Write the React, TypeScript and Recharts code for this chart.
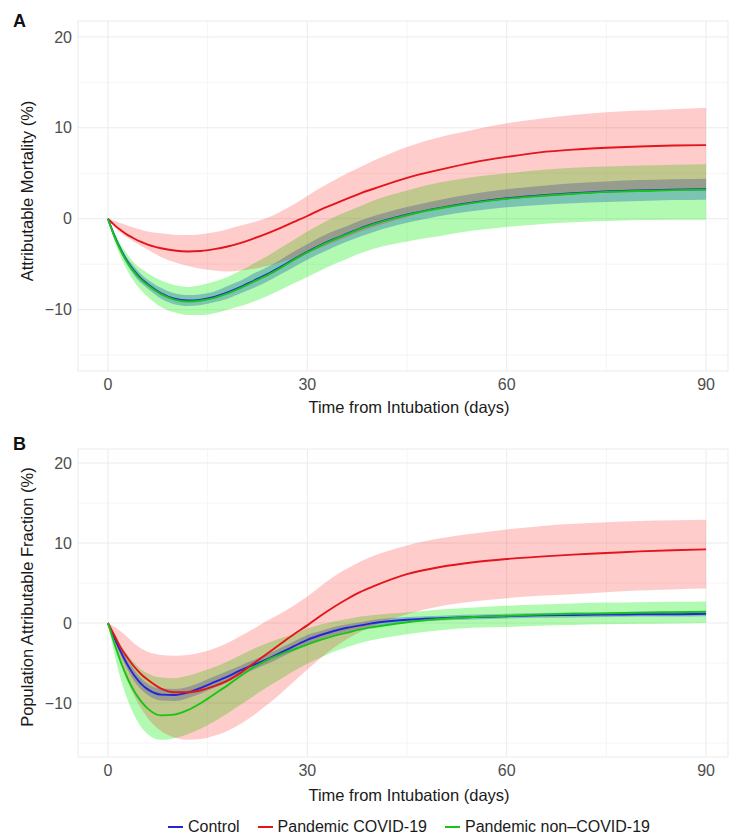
import {
  Area,
  CartesianGrid,
  ComposedChart,
  Line,
  XAxis,
  YAxis,
} from "recharts";

// days from intubation at which the curves were read
const days = [0, 1, 2, 3, 4, 5, 6, 8, 10, 12, 14, 16, 18, 20, 22, 24, 26, 28, 30, 32, 34, 36, 38, 40, 45, 50, 55, 60, 65, 70, 75, 80, 85, 90];

// Panel A: attributable mortality (%)
const aControl = [0, -1.9, -3.5, -4.8, -5.8, -6.6, -7.2, -8.2, -8.8, -9.0, -8.9, -8.6, -8.1, -7.5, -6.8, -6.1, -5.3, -4.45, -3.65, -2.9, -2.25, -1.65, -1.05, -0.55, 0.45, 1.2, 1.8, 2.25, 2.55, 2.8, 3.0, 3.1, 3.2, 3.25];
const aControlLo = [0, -2.1, -3.8, -5.2, -6.3, -7.1, -7.7, -8.8, -9.4, -9.6, -9.5, -9.2, -8.8, -8.2, -7.6, -6.9, -6.1, -5.3, -4.5, -3.8, -3.1, -2.5, -1.95, -1.45, -0.45, 0.3, 0.85, 1.25, 1.5, 1.7, 1.85, 1.95, 2.05, 2.1];
const aControlHi = [0, -1.7, -3.2, -4.4, -5.3, -6.1, -6.7, -7.6, -8.2, -8.4, -8.3, -8.0, -7.4, -6.8, -6.0, -5.3, -4.5, -3.6, -2.8, -2.0, -1.35, -0.8, -0.2, 0.3, 1.3, 2.1, 2.75, 3.25, 3.6, 3.9, 4.1, 4.25, 4.35, 4.4];
const aCovid = [0, -0.7, -1.3, -1.8, -2.2, -2.55, -2.85, -3.25, -3.5, -3.6, -3.55, -3.35, -3.05, -2.65, -2.15, -1.6, -1.0, -0.35, 0.3, 1.0, 1.6, 2.2, 2.8, 3.3, 4.5, 5.4, 6.2, 6.8, 7.3, 7.6, 7.8, 7.95, 8.05, 8.1];
const aCovidLo = [0, -0.9, -1.6, -2.1, -2.6, -3.0, -3.4, -4.2, -4.8, -5.2, -5.5, -5.7, -5.8, -5.7, -5.5, -5.2, -4.8, -4.3, -3.8, -3.2, -2.6, -2.0, -1.4, -0.9, 0.2, 1.2, 1.8, 2.3, 2.6, 2.8, 3.0, 3.1, 3.2, 3.3];
const aCovidHi = [0, -0.25, -0.5, -0.75, -1.0, -1.2, -1.4, -1.6, -1.75, -1.8, -1.7, -1.5, -1.15, -0.75, -0.35, 0.1, 0.8, 1.6, 2.5, 3.4, 4.2, 5.0, 5.7, 6.4, 7.9, 9.0, 9.8, 10.5, 11.0, 11.4, 11.7, 11.9, 12.05, 12.2];
const aNon = [0, -2.0, -3.6, -4.9, -5.9, -6.7, -7.3, -8.3, -8.9, -9.1, -9.0, -8.7, -8.2, -7.6, -6.9, -6.2, -5.4, -4.5, -3.7, -2.95, -2.3, -1.7, -1.1, -0.6, 0.4, 1.15, 1.75, 2.2, 2.5, 2.75, 2.95, 3.05, 3.15, 3.2];
const aNonLo = [0, -2.5, -4.3, -5.8, -7.0, -7.9, -8.6, -9.7, -10.3, -10.6, -10.6, -10.4, -10.0, -9.6, -9.1, -8.5, -7.8, -7.1, -6.4, -5.7, -5.0, -4.4, -3.8, -3.3, -2.5, -1.9, -1.3, -0.9, -0.6, -0.4, -0.25, -0.15, -0.1, -0.1];
const aNonHi = [0, -1.5, -2.9, -4.0, -4.9, -5.5, -6.0, -6.8, -7.3, -7.5, -7.3, -6.9, -6.4, -5.7, -4.9, -4.1, -3.2, -2.3, -1.4, -0.6, 0.15, 0.8, 1.4, 2.0, 3.1, 4.0, 4.6, 5.0, 5.35, 5.6, 5.75, 5.85, 5.95, 6.0];

// Panel B: population attributable fraction (%)
const bControl = [0, -1.9, -3.7, -5.3, -6.6, -7.6, -8.3, -8.95, -9.0, -8.7, -8.1, -7.4, -6.7, -5.9, -5.2, -4.5, -3.7, -2.9, -2.1, -1.5, -1.0, -0.6, -0.3, 0.0, 0.4, 0.6, 0.75, 0.85, 0.95, 1.0, 1.05, 1.1, 1.1, 1.15];
const bControlLo = [0, -2.2, -4.2, -5.9, -7.3, -8.3, -9.0, -9.7, -9.75, -9.4, -8.8, -8.1, -7.4, -6.5, -5.8, -5.1, -4.3, -3.5, -2.7, -2.0, -1.5, -1.05, -0.7, -0.4, 0.05, 0.3, 0.45, 0.55, 0.65, 0.7, 0.75, 0.8, 0.8, 0.85];
const bControlHi = [0, -1.6, -3.2, -4.7, -5.9, -6.9, -7.6, -8.2, -8.25, -8.0, -7.4, -6.7, -6.0, -5.3, -4.6, -3.9, -3.1, -2.3, -1.5, -1.0, -0.5, -0.15, 0.1, 0.4, 0.75, 0.9, 1.05, 1.15, 1.25, 1.3, 1.35, 1.4, 1.4, 1.45];
const bCovid = [0, -1.6, -3.2, -4.4, -5.5, -6.4, -7.1, -8.2, -8.65, -8.65, -8.4, -7.9, -7.2, -6.2, -5.0, -3.8, -2.6, -1.4, -0.3, 0.9, 2.0, 3.0, 3.9, 4.6, 6.1, 7.0, 7.6, 8.0, 8.3, 8.55, 8.75, 8.95, 9.1, 9.2];
const bCovidLo = [0, -2.8, -5.3, -7.4, -9.2, -10.7, -11.9, -13.5, -14.3, -14.6, -14.5, -14.1, -13.5, -12.6, -11.5, -10.2, -8.8, -7.3, -5.8, -4.4, -3.1, -2.0, -1.1, -0.3, 1.1, 2.1, 2.7, 3.1, 3.4, 3.6, 3.85, 4.05, 4.2, 4.3];
const bCovidHi = [0, -0.5, -1.1, -1.8, -2.6, -3.2, -3.6, -4.0, -4.1, -4.0, -3.7, -3.2, -2.5, -1.6, -0.7, 0.3, 1.2, 2.2, 3.3, 4.6, 5.8, 6.8, 7.7, 8.4, 9.7, 10.6, 11.2, 11.7, 12.1, 12.4, 12.6, 12.75, 12.85, 12.9];
const bNon = [0, -2.6, -5.0, -7.0, -8.6, -9.8, -10.7, -11.55, -11.45, -10.9, -10.0, -8.9, -7.8, -6.6, -5.5, -4.6, -3.9, -3.3, -2.7, -2.1, -1.6, -1.2, -0.8, -0.5, 0.1, 0.5, 0.75, 0.9, 1.05, 1.15, 1.2, 1.3, 1.35, 1.4];
const bNonLo = [0, -4.0, -7.2, -9.7, -11.6, -13.0, -13.9, -14.6, -14.4, -13.9, -13.2, -12.3, -11.3, -10.2, -9.1, -8.0, -7.0, -6.0, -5.1, -4.3, -3.6, -3.0, -2.5, -2.1, -1.4, -0.9, -0.6, -0.5, -0.35, -0.25, -0.15, -0.1, -0.05, 0];
const bNonHi = [0, -1.3, -2.8, -4.0, -5.0, -5.8, -6.3, -6.8, -6.9, -6.6, -6.1, -5.5, -4.8, -4.0, -3.2, -2.5, -1.9, -1.3, -0.7, -0.2, 0.2, 0.5, 0.8, 1.0, 1.3, 1.7, 1.95, 2.15, 2.3, 2.45, 2.55, 2.6, 2.65, 2.7];

const xTicks = [0, 30, 60, 90];
const xMinor = [15, 45, 75];
const yTicks = [-10, 0, 10, 20];
const yMinor = [-15, -5, 5, 15];

const groups = [
  { key: "control", name: "Control", color: "#2525d8", fill: "#0000ff", opacity: 0.3 },
  { key: "covid", name: "Pandemic COVID-19", color: "#e3141b", fill: "#ff0000", opacity: 0.2 },
  { key: "nonCovid", name: "Pandemic non\u2013COVID-19", color: "#18c418", fill: "#00f000", opacity: 0.3 },
];

const FONT = "'Liberation Sans', Arial, Helvetica, sans-serif";

type Row = Record<string, number | number[]>;

function buildRows(
  ctl: number[], ctlLo: number[], ctlHi: number[],
  cov: number[], covLo: number[], covHi: number[],
  non: number[], nonLo: number[], nonHi: number[],
): Row[] {
  return days.map((d, i) => ({
    day: d,
    control: ctl[i],
    covid: cov[i],
    nonCovid: non[i],
    controlBand: [ctlLo[i], ctlHi[i]],
    covidBand: [covLo[i], covHi[i]],
    nonCovidBand: [nonLo[i], nonHi[i]],
  }));
}

const rowsA = buildRows(aControl, aControlLo, aControlHi, aCovid, aCovidLo, aCovidHi, aNon, aNonLo, aNonHi);
const rowsB = buildRows(bControl, bControlLo, bControlHi, bCovid, bCovidLo, bCovidHi, bNon, bNonLo, bNonHi);

const fmtTick = (v: number) => (v < 0 ? `\u2212${Math.abs(v)}` : String(v));

function YTitle({ viewBox, value, dy }: any) {
  const cx = 27;
  const cy = viewBox.y + viewBox.height / 2 + dy;
  return (
    <text
      x={cx}
      y={cy}
      transform={`rotate(-90, ${cx}, ${cy})`}
      textAnchor="middle"
      dominantBaseline="central"
      fontSize={16.5}
      fontFamily={FONT}
      fill="#1a1a1a"
    >
      {value}
    </text>
  );
}

function XTitle({ viewBox, value, dy }: any) {
  const cx = viewBox.x + viewBox.width / 2 + 6;
  const cy = viewBox.y + dy;
  return (
    <text x={cx} y={cy} textAnchor="middle" dominantBaseline="central" fontSize={16.5} fontFamily={FONT} fill="#1a1a1a">
      {value}
    </text>
  );
}

function Panel({
  rows,
  height,
  marginTop,
  marginBottom,
  yTitle,
  yTitleDy,
  xTitleDy,
}: {
  rows: Row[];
  height: number;
  marginTop: number;
  marginBottom: number;
  yTitle: string;
  yTitleDy: number;
  xTitleDy: number;
}) {
  // bands go blue, green, red so the overlaps mix the way the original does
  const bandOrder = [groups[0], groups[2], groups[1]];
  const lineOrder = [groups[0], groups[1], groups[2]];
  return (
    <ComposedChart
      width={732}
      height={height}
      data={rows}
      margin={{ top: marginTop, right: 4, bottom: marginBottom, left: 0 }}
    >
      <CartesianGrid
        stroke="#f3f3f3"
        strokeWidth={0.8}
        horizontalValues={yMinor}
        verticalValues={xMinor}
      />
      <CartesianGrid stroke="#ebebeb" strokeWidth={1} />
      <XAxis
        type="number"
        dataKey="day"
        domain={[-4.5, 93.3]}
        ticks={xTicks}
        allowDataOverflow
        axisLine={false}
        tickLine={false}
        tickSize={6}
        tickMargin={2}
        height={40}
        tick={{ fontSize: 16, fill: "#4d4d4d", fontFamily: FONT }}
        label={(p: any) => <XTitle {...p} value="Time from Intubation (days)" dy={xTitleDy} />}
      />
      <YAxis
        type="number"
        domain={[-16.75, 21.75]}
        ticks={yTicks}
        allowDataOverflow
        axisLine={false}
        tickLine={false}
        tickSize={4}
        tickMargin={2}
        width={78}
        tickFormatter={fmtTick}
        tick={{ fontSize: 16, fill: "#4d4d4d", fontFamily: FONT }}
        label={(p: any) => <YTitle {...p} value={yTitle} dy={yTitleDy} />}
      />
      {bandOrder.map((g) => (
        <Area
          key={`${g.key}Band`}
          type="monotone"
          dataKey={`${g.key}Band`}
          stroke="none"
          fill={g.fill}
          fillOpacity={g.opacity}
          legendType="none"
          dot={false}
          activeDot={false}
          isAnimationActive={false}
        />
      ))}
      {lineOrder.map((g) => (
        <Line
          key={g.key}
          type="monotone"
          dataKey={g.key}
          name={g.name}
          stroke={g.color}
          strokeWidth={1.9}
          dot={false}
          activeDot={false}
          isAnimationActive={false}
        />
      ))}
    </ComposedChart>
  );
}

function PanelLetter({ text, top }: { text: string; top: number }) {
  return (
    <div
      style={{
        position: "absolute",
        left: 13,
        top,
        fontFamily: FONT,
        fontWeight: 700,
        fontSize: 18,
        lineHeight: "18px",
        color: "#111",
      }}
    >
      {text}
    </div>
  );
}

export default function App() {
  return (
    <div
      style={{
        position: "absolute",
        left: 0,
        top: 0,
        width: 732,
        height: 836,
        background: "#fff",
        overflow: "hidden",
      }}
    >
      <div style={{ position: "absolute", left: 0, top: 0 }}>
        <Panel rows={rowsA} height={420} marginTop={21} marginBottom={9} yTitle="Attributable Mortality (%)" yTitleDy={-5} xTitleDy={36} />
      </div>
      <div style={{ position: "absolute", left: 0, top: 420 }}>
        <Panel rows={rowsB} height={416} marginTop={29} marginBottom={39} yTitle="Population Attributable Fraction (%)" yTitleDy={-6} xTitleDy={38} />
      </div>
      <PanelLetter text="A" top={12} />
      <PanelLetter text="B" top={435} />
      <div
        style={{
          position: "absolute",
          left: 168,
          top: 818,
          display: "flex",
          alignItems: "center",
          fontFamily: FONT,
          fontSize: 16,
          color: "#1a1a1a",
          whiteSpace: "nowrap",
        }}
      >
        {groups.map((g) => (
          <div key={g.key} style={{ display: "flex", alignItems: "center", marginRight: 18 }}>
            <span style={{ display: "inline-block", width: 15, height: 2, background: g.color, marginRight: 5 }} />
            <span>{g.name}</span>
          </div>
        ))}
      </div>
    </div>
  );
}
